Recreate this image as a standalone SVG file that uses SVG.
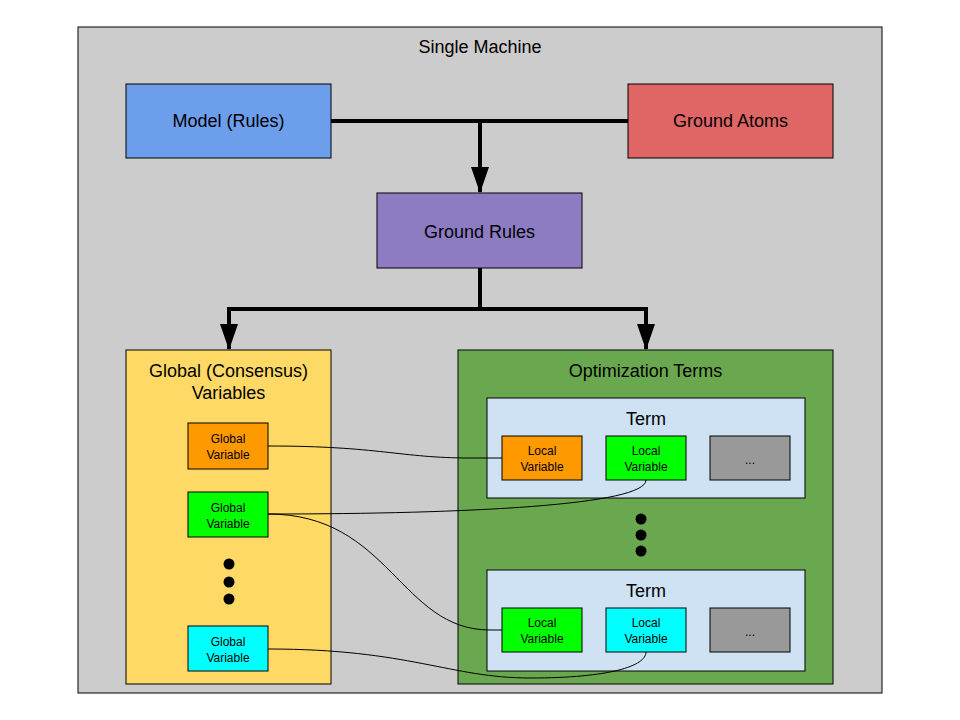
<svg xmlns="http://www.w3.org/2000/svg" width="960" height="720" viewBox="0 0 960 720">
<style>
.box{stroke:#000;stroke-width:1}
.t{font-family:"Liberation Sans",Arial,sans-serif;fill:#000;text-anchor:middle}
.big{font-size:18px}
.sm{font-size:12px}
.thick{fill:none;stroke:#000;stroke-width:4}
.thin{fill:none;stroke:#000;stroke-width:1}
</style>
<defs>
<marker id="ah" viewBox="0 0 26 18" refX="25" refY="9" markerWidth="6.5" markerHeight="4.5" markerUnits="strokeWidth" orient="auto">
<path d="M0,0 L26,9 L0,18 Z" fill="#000"/>
</marker>
</defs>
<rect width="960" height="720" fill="#fff"/>
<g id="machine">
<rect class="box" x="78" y="27" width="804" height="666" fill="#cccccc"/>
<text class="t big" x="480" y="53">Single Machine</text>
</g>
<g id="model">
<rect class="box" x="126" y="84" width="205" height="74" fill="#6d9eeb"/>
<text class="t big" x="228.5" y="127">Model (Rules)</text>
</g>
<g id="atoms">
<rect class="box" x="628" y="84" width="205" height="74" fill="#e06666"/>
<text class="t big" x="730.5" y="127">Ground Atoms</text>
</g>
<g id="groundrules">
<rect class="box" x="377" y="193" width="205" height="75" fill="#8e7cc3"/>
<text class="t big" x="479.5" y="238">Ground Rules</text>
</g>
<g id="global">
<rect class="box" x="126" y="350" width="205" height="334" fill="#ffd966"/>
<text class="t big" x="228.5" y="377">Global (Consensus)</text>
<text class="t big" x="228.5" y="399">Variables</text>
<circle cx="229" cy="564" r="5.5"/>
<circle cx="229" cy="582" r="5.5"/>
<circle cx="229" cy="599" r="5.5"/>
</g>
<g id="gv1">
<rect class="box" x="188" y="423" width="80" height="46" fill="#ff9900"/>
<text class="t sm" x="228" y="443">Global</text>
<text class="t sm" x="228" y="459">Variable</text>
</g>
<g id="gv2">
<rect class="box" x="188" y="492" width="80" height="45" fill="#00ff00"/>
<text class="t sm" x="228" y="512">Global</text>
<text class="t sm" x="228" y="528">Variable</text>
</g>
<g id="gv3">
<rect class="box" x="188" y="626" width="80" height="45" fill="#00ffff"/>
<text class="t sm" x="228" y="646">Global</text>
<text class="t sm" x="228" y="662">Variable</text>
</g>
<g id="optterms">
<rect class="box" x="458" y="350" width="375" height="334" fill="#6aa84f"/>
<text class="t big" x="645.5" y="377">Optimization Terms</text>
<circle cx="641" cy="519" r="5.5"/>
<circle cx="641" cy="535" r="5.5"/>
<circle cx="641" cy="551" r="5.5"/>
</g>
<g id="term1">
<rect class="box" x="487" y="398" width="318" height="100" fill="#cfe2f3"/>
<text class="t big" x="646" y="425">Term</text>
</g>
<g id="lv1">
<rect class="box" x="502" y="436" width="80" height="44" fill="#ff9900"/>
<text class="t sm" x="542" y="455">Local</text>
<text class="t sm" x="542" y="471">Variable</text>
</g>
<g id="lv2">
<rect class="box" x="606" y="436" width="80" height="44" fill="#00ff00"/>
<text class="t sm" x="646" y="455">Local</text>
<text class="t sm" x="646" y="471">Variable</text>
</g>
<g id="lv3">
<rect class="box" x="710" y="436" width="80" height="44" fill="#999999"/>
<text class="t sm" x="750" y="464">...</text>
</g>
<g id="term2">
<rect class="box" x="487" y="570" width="318" height="101" fill="#cfe2f3"/>
<text class="t big" x="646" y="597">Term</text>
</g>
<g id="lv4">
<rect class="box" x="502" y="608" width="80" height="44" fill="#00ff00"/>
<text class="t sm" x="542" y="627">Local</text>
<text class="t sm" x="542" y="643">Variable</text>
</g>
<g id="lv5">
<rect class="box" x="606" y="608" width="80" height="44" fill="#00ffff"/>
<text class="t sm" x="646" y="627">Local</text>
<text class="t sm" x="646" y="643">Variable</text>
</g>
<g id="lv6">
<rect class="box" x="710" y="608" width="80" height="44" fill="#999999"/>
<text class="t sm" x="750" y="636">...</text>
</g>
<g id="connectors">
<path class="thick" d="M331,121 H628"/>
<path class="thick" d="M480,121 V192" marker-end="url(#ah)"/>
<path class="thick" d="M480,268 V309 H229 V349" marker-end="url(#ah)"/>
<path class="thick" d="M480,309 H646 V349" marker-end="url(#ah)"/>
<path class="thin" d="M268,446 C380,446 400,458 470,458 H502"/>
<path class="thin" d="M268,514 C470,514 646,505 646,480"/>
<path class="thin" d="M268,514 C390,514 400,630 490,630 H502"/>
<path class="thin" d="M268,649 C410,649 450,678 530,678 C610,678 646,666 646,652"/>
</g>
</svg>
